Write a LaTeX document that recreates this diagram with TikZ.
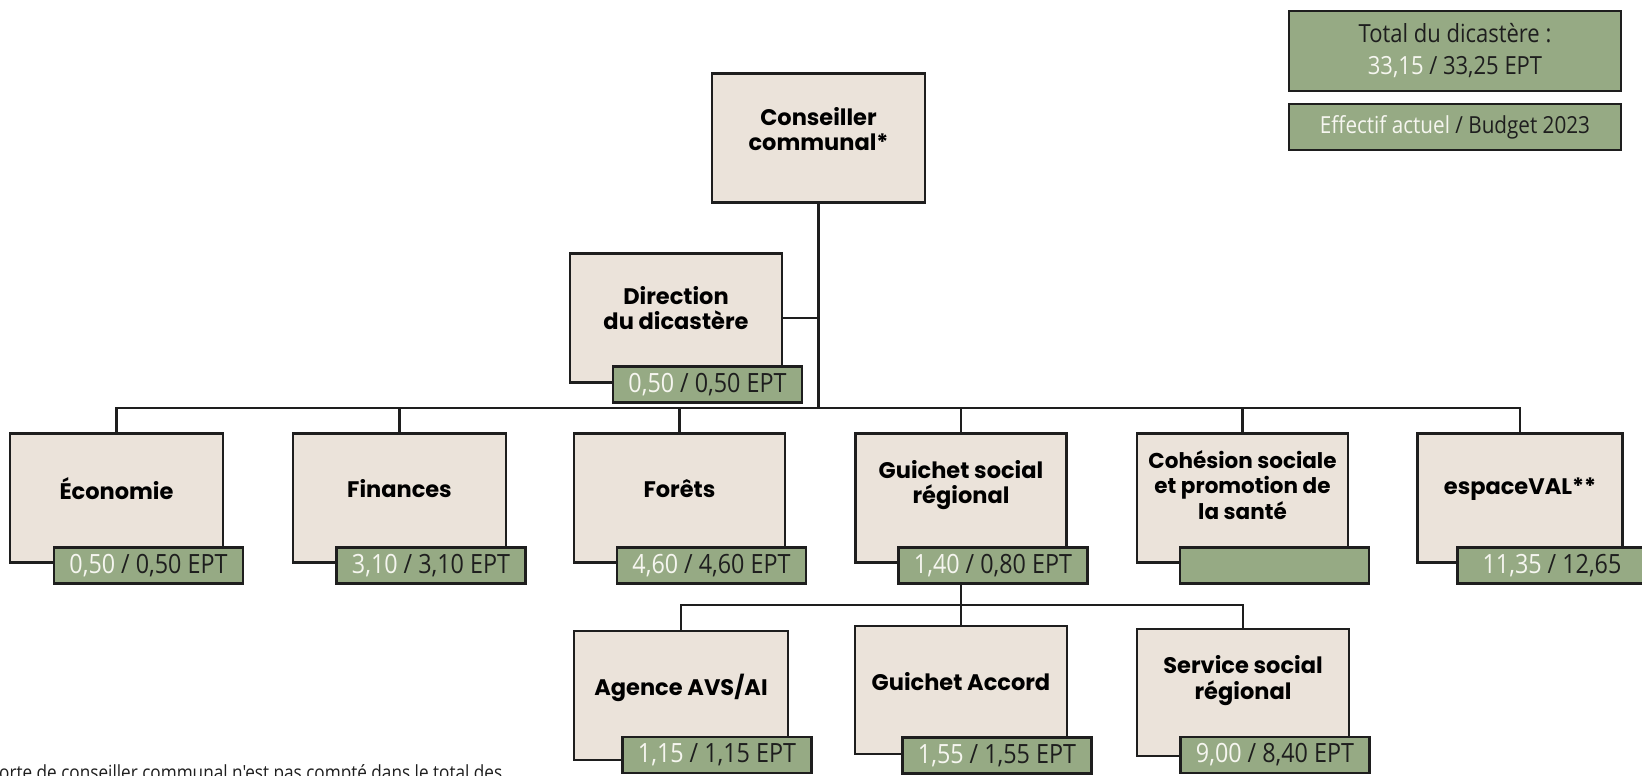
\documentclass[tikz,border=0pt]{standalone}
\usepackage{fontspec}
\setmainfont{Open Sans}
\newfontfamily\titlefont{Poppins}
\newfontfamily\tagfont[FakeStretch=0.88]{Open Sans}
\definecolor{linec}{HTML}{1E1E1E}
\definecolor{boxfill}{HTML}{EBE3DA}
\definecolor{tagfill}{HTML}{96AA84}
\definecolor{wtxt}{HTML}{F6F6F0}
\definecolor{dtxt}{HTML}{1E1E1E}
\newcommand{\wn}[1]{\textcolor{wtxt}{#1}}
\begin{document}
\begin{tikzpicture}[x=1pt,y=-1pt,
  box/.style={draw=linec, line width=2.6pt, fill=boxfill, minimum width=213pt, minimum height=129pt, inner sep=0pt},
  ttl/.style={font=\titlefont\bfseries\fontsize{22.5}{25.5}\selectfont, align=center, text=black, inner sep=0pt},
  tagbox/.style={draw=linec, line width=2.6pt, fill=tagfill, minimum width=189pt, minimum height=36pt, inner sep=0pt, font=\tagfont\fontsize{26.5}{28}\selectfont, text=dtxt},
  conn/.style={draw=linec, line width=2.6pt},
  legbox/.style={draw=linec, line width=2pt, fill=tagfill, minimum width=332pt, inner sep=0pt, align=center, font=\tagfont\fontsize{25}{32}\selectfont, text=dtxt}
]
\useasboundingbox (0,0) rectangle (1642,776);

% legend
\node[legbox, minimum height=80pt] (tot) at (1455,51) {Total du dicastère :\\\wn{33,15} / 33,25 EPT};
\node[legbox, minimum height=46pt, font=\tagfont\fontsize{23.5}{26}\selectfont] (leg) at (1455,127) {\wn{Effectif actuel} / Budget 2023};

% boxes
\node[box] (cc) at (818.5,138) {};
\node[box, minimum width=212pt] (dir) at (676,318) {};
\node[box] (eco) at (116.5,498) {};
\node[box] (fin) at (399.5,498) {};
\node[box, minimum width=211pt] (for) at (679.5,498) {};
\node[box, minimum width=211pt] (gs) at (961,498) {};
\node[box, minimum width=211pt] (coh) at (1242.5,498) {};
\node[box, minimum width=205pt] (val) at (1520,498) {};
\node[box, minimum width=214pt] (avs) at (681,695.5) {};
\node[box, minimum width=212pt, minimum height=128pt] (acc) at (961,690) {};
\node[box, minimum width=212pt, minimum height=127pt] (sss) at (1243,692.5) {};

% titles
\node[ttl] (ccT) at ([yshift=9pt]cc.center) {Conseiller\\communal*};
\node[ttl] (dirT) at ([yshift=10pt]dir.center) {Direction\\du dicastère};
\node[ttl] (ecoT) at ([yshift=9pt]eco.center) {Économie};
\node[ttl] (finT) at ([yshift=9pt]fin.center) {Finances};
\node[ttl] (forT) at ([yshift=9pt]for.center) {Forêts};
\node[ttl] (gsT) at ([yshift=13pt]gs.center) {Guichet social\\régional};
\node[ttl, font=\titlefont\bfseries\fontsize{21.5}{25.5}\selectfont] (cohT) at ([yshift=13pt]coh.center) {Cohésion sociale\\et promotion de\\la santé};
\node[ttl] (valT) at ([yshift=9pt]val.center) {espaceVAL**};
\node[ttl] (avsT) at ([yshift=8pt]avs.center) {Agence AVS/AI};
\node[ttl] (accT) at ([yshift=8pt]acc.center) {Guichet Accord};
\node[ttl] (sssT) at ([yshift=12pt]sss.center) {Service social\\régional};

% connectors
\coordinate (bus) at (818.5,408);
\coordinate (sbus) at (961,605);
\draw[conn] (cc.south) -- (bus);
\draw[conn] (dir.east) -- (dir.east -| cc.south);
\draw[conn] (eco.north) -- (eco.north |- bus) -- (val.north |- bus) -- (val.north);
\draw[conn] (fin.north) -- (fin.north |- bus);
\draw[conn] (for.north) -- (for.north |- bus);
\draw[conn] (gs.north) -- (gs.north |- bus);
\draw[conn] (coh.north) -- (coh.north |- bus);
\draw[conn] (gs.south) -- (sbus);
\draw[conn] (avs.north) -- (avs.north |- sbus) -- (sss.north |- sbus) -- (sss.north);
\draw[conn] (acc.north) -- (acc.north |- sbus);

% tags
\node[tagbox] (dirE) at (707.5,384.5) {\wn{0,50} / 0,50 EPT};
\node[tagbox] (ecoE) at (148.5,565.5) {\wn{0,50} / 0,50 EPT};
\node[tagbox] (finE) at (431,565.5) {\wn{3,10} / 3,10 EPT};
\node[tagbox] (forE) at (711.5,565.5) {\wn{4,60} / 4,60 EPT};
\node[tagbox] (gsE) at (993,565.5) {\wn{1,40} / 0,80 EPT};
\node[tagbox] (cohE) at (1274.5,565.5) {};
\node[tagbox] (valE) at (1552,565.5) {\wn{11,35} / 12,65};
\node[tagbox] (avsE) at (717,755) {\wn{1,15} / 1,15 EPT};
\node[tagbox] (accE) at (997,755.5) {\wn{1,55} / 1,55 EPT};
\node[tagbox] (sssE) at (1275,755) {\wn{9,00} / 8,40 EPT};

% footnote (cut by the frame, as in the reference)
\node[anchor=base west, inner sep=0pt, font=\tagfont\fontsize{19.5}{22}\selectfont, text=dtxt] (note) at (-1,779) {orte de conseiller communal n'est pas compté dans le total des};
\end{tikzpicture}
\end{document}
